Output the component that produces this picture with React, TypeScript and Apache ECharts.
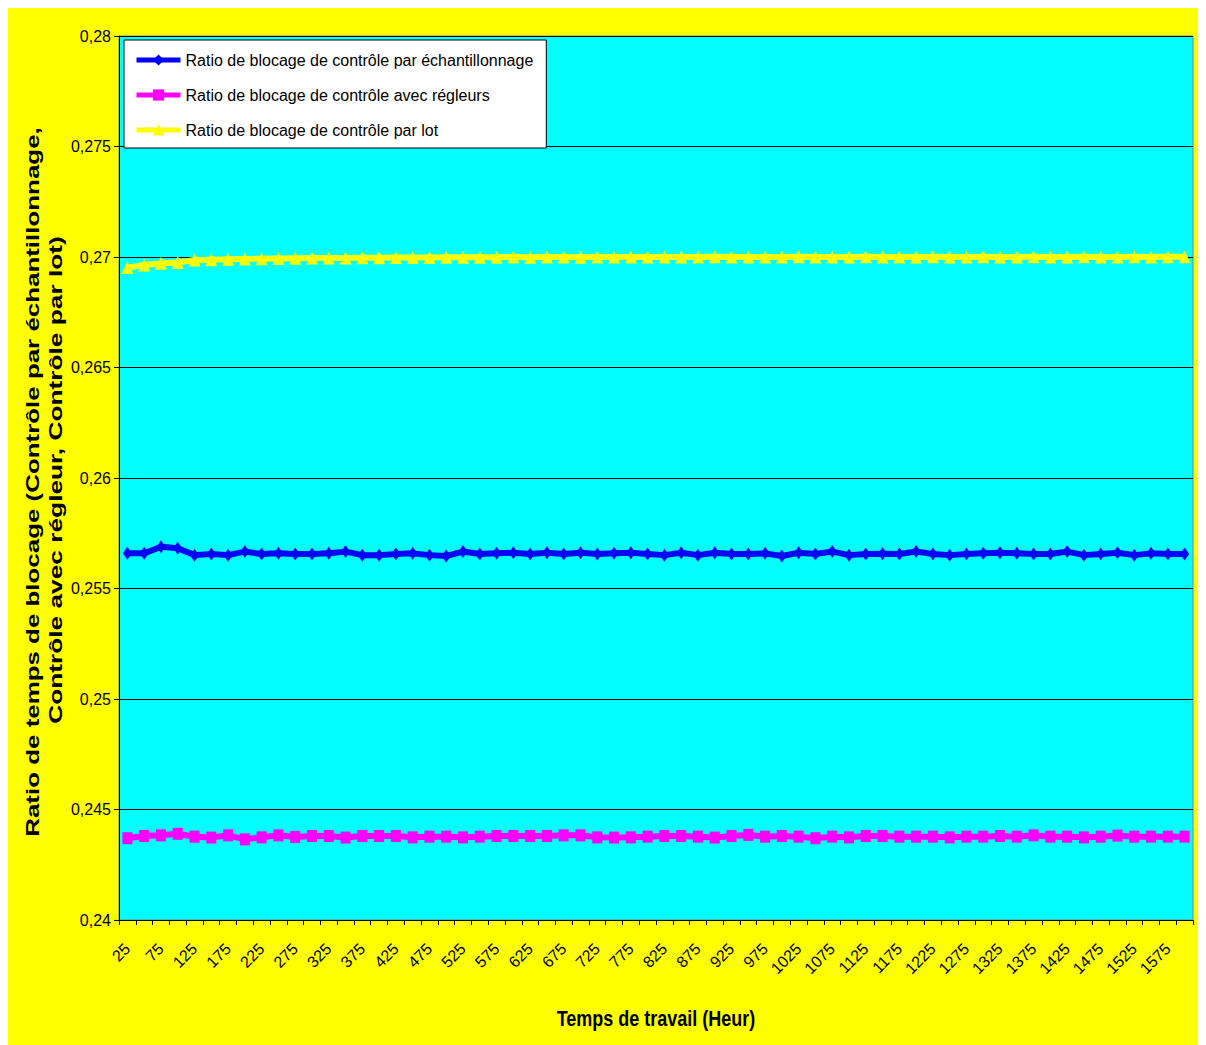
import React, { useEffect, useRef } from "react";
import * as echarts from "echarts";

const hours: string[] = [];
for (let h = 25; h <= 1600; h += 25) hours.push(String(h));

const seriesNames = [
  "Ratio de blocage de contrôle par échantillonnage",
  "Ratio de blocage de contrôle avec régleurs",
  "Ratio de blocage de contrôle par lot",
];

const echantillonnage = [
  0.25659, 0.25659, 0.25689, 0.25682, 0.25651, 0.25656, 0.25651, 0.25667, 0.25656, 0.25659,
  0.25656, 0.25656, 0.25659, 0.25667, 0.25651, 0.25651, 0.25656, 0.25659, 0.25651, 0.25647,
  0.25667, 0.25656, 0.25659, 0.25662, 0.25656, 0.25662, 0.25656, 0.25662, 0.25656, 0.25659,
  0.25662, 0.25656, 0.25651, 0.25662, 0.25651, 0.25662, 0.25656, 0.25656, 0.25659, 0.25647,
  0.25662, 0.25656, 0.25667, 0.25651, 0.25656, 0.25657, 0.25656, 0.25667, 0.25656, 0.25651,
  0.25656, 0.25659, 0.25662, 0.25659, 0.25656, 0.25656, 0.25667, 0.25651, 0.25656, 0.25662,
  0.25651, 0.25659, 0.25656, 0.25656,
];

const regleurs = [
  0.2437, 0.2438, 0.24383, 0.2439, 0.24377, 0.24373, 0.24383, 0.24365, 0.24374, 0.24383,
  0.24376, 0.2438, 0.2438, 0.24373, 0.2438, 0.2438, 0.2438, 0.24374, 0.24377, 0.24377,
  0.24374, 0.24377, 0.2438, 0.2438, 0.2438, 0.2438, 0.24383, 0.24383, 0.24374, 0.24373,
  0.24374, 0.24377, 0.2438, 0.2438, 0.24377, 0.24373, 0.2438, 0.24385, 0.24377, 0.2438,
  0.24377, 0.2437, 0.24377, 0.24374, 0.2438, 0.2438, 0.24377, 0.24377, 0.24377, 0.24374,
  0.24377, 0.24377, 0.2438, 0.24377, 0.24383, 0.24377, 0.24377, 0.24374, 0.24377, 0.24382,
  0.24377, 0.24377, 0.24377, 0.24377,
];

const parLot = [
  0.26952, 0.26964, 0.26972, 0.26975, 0.26986, 0.26988, 0.2699, 0.26991, 0.26992, 0.26993,
  0.26994, 0.26995, 0.26995, 0.26996, 0.26997, 0.26997, 0.26998, 0.26998, 0.26998, 0.26999,
  0.26999, 0.26999, 0.26999, 0.27, 0.26999, 0.27, 0.27, 0.26999, 0.27, 0.27,
  0.27, 0.27, 0.27, 0.27, 0.27, 0.27001, 0.27, 0.27, 0.27, 0.27,
  0.27001, 0.27, 0.27, 0.27, 0.27001, 0.27, 0.27, 0.27, 0.27001, 0.27,
  0.27, 0.27001, 0.27, 0.27, 0.27001, 0.27, 0.27, 0.27001, 0.27, 0.27,
  0.27001, 0.27, 0.27001, 0.27001,
];

const yAxisTitle1 = "Ratio de temps de blocage (Contrôle par échantillonnage,";
const yAxisTitle2 = "Contrôle avec régleur, Contrôle par lot)";
const xAxisTitle = "Temps de travail (Heur)";

const FONT = "'Liberation Sans', Arial, sans-serif";

export default function App() {
  const ref = useRef<HTMLDivElement>(null);

  useEffect(() => {
    if (!ref.current) return;
    const chart = echarts.init(ref.current, undefined, { renderer: "svg" });
    chart.setOption({
      animation: false,
      backgroundColor: "#FFFF00",
      textStyle: { fontFamily: FONT },
      grid: {
        left: 111,
        right: 11,
        top: 28,
        bottom: 125,
        show: true,
        backgroundColor: "#00FFFF",
        borderColor: "#808080",
        borderWidth: 1,
      },
      legend: {
        orient: "vertical",
        left: 116,
        top: 32,
        backgroundColor: "#FFFFFF",
        borderColor: "#000000",
        borderWidth: 1,
        borderRadius: 0,
        padding: [12, 13, 10, 10],
        itemGap: 19,
        itemWidth: 44,
        itemHeight: 14,
        lineStyle: { width: 5 },
        textStyle: { fontFamily: FONT, fontSize: 16, color: "#000" },
        data: seriesNames,
      },
      xAxis: {
        type: "category",
        data: hours,
        boundaryGap: true,
        axisLine: { lineStyle: { color: "#000", width: 1 } },
        axisTick: { show: true, interval: 0, length: 5, lineStyle: { color: "#000" } },
        axisLabel: {
          interval: 1,
          rotate: 45,
          margin: 26,
          fontFamily: FONT,
          fontSize: 16,
          color: "#000",
        },
        splitLine: { show: false },
      },
      yAxis: {
        type: "value",
        min: 0.24,
        max: 0.28,
        interval: 0.005,
        axisLine: { show: true, lineStyle: { color: "#000", width: 1 } },
        axisTick: { show: true, length: 5, lineStyle: { color: "#000" } },
        axisLabel: {
          fontFamily: FONT,
          fontSize: 16,
          color: "#000",
          margin: 8,
          formatter: (v: number) => String(Number(v.toFixed(3))).replace(".", ","),
        },
        splitLine: { show: true, lineStyle: { color: "#000", width: 1 } },
      },
      graphic: [
        {
          type: "text",
          x: 25,
          y: 474,
          rotation: Math.PI / 2,
          scaleX: 1.44,
          style: {
            text: yAxisTitle1,
            font: `bold 18px ${FONT}`,
            fill: "#000",
            align: "center",
            verticalAlign: "middle",
          },
        },
        {
          type: "text",
          x: 48,
          y: 472,
          rotation: Math.PI / 2,
          scaleX: 1.46,
          style: {
            text: yAxisTitle2,
            font: `bold 18px ${FONT}`,
            fill: "#000",
            align: "center",
            verticalAlign: "middle",
          },
        },
        {
          type: "text",
          x: 648,
          y: 1010,
          scaleY: 1.2,
          style: {
            text: xAxisTitle,
            font: `bold 18px ${FONT}`,
            fill: "#000",
            align: "center",
            verticalAlign: "middle",
          },
        },
      ],
      series: [
        {
          name: seriesNames[0],
          type: "line",
          data: echantillonnage,
          symbol: "diamond",
          symbolSize: [9, 13],
          showAllSymbol: true,
          lineStyle: { color: "#0000FF", width: 6 },
          itemStyle: { color: "#0000FF" },
        },
        {
          name: seriesNames[1],
          type: "line",
          data: regleurs,
          symbol: "rect",
          symbolSize: [10, 12],
          showAllSymbol: true,
          lineStyle: { color: "#FF00FF", width: 6 },
          itemStyle: { color: "#FF00FF" },
        },
        {
          name: seriesNames[2],
          type: "line",
          data: parLot,
          symbol: "triangle",
          symbolSize: [12, 13],
          showAllSymbol: true,
          lineStyle: { color: "#FFFF00", width: 6 },
          itemStyle: { color: "#FFFF00" },
        },
      ],
    });
    return () => chart.dispose();
  }, []);

  return <div ref={ref} style={{ width: 1196, height: 1037 }} />;
}
